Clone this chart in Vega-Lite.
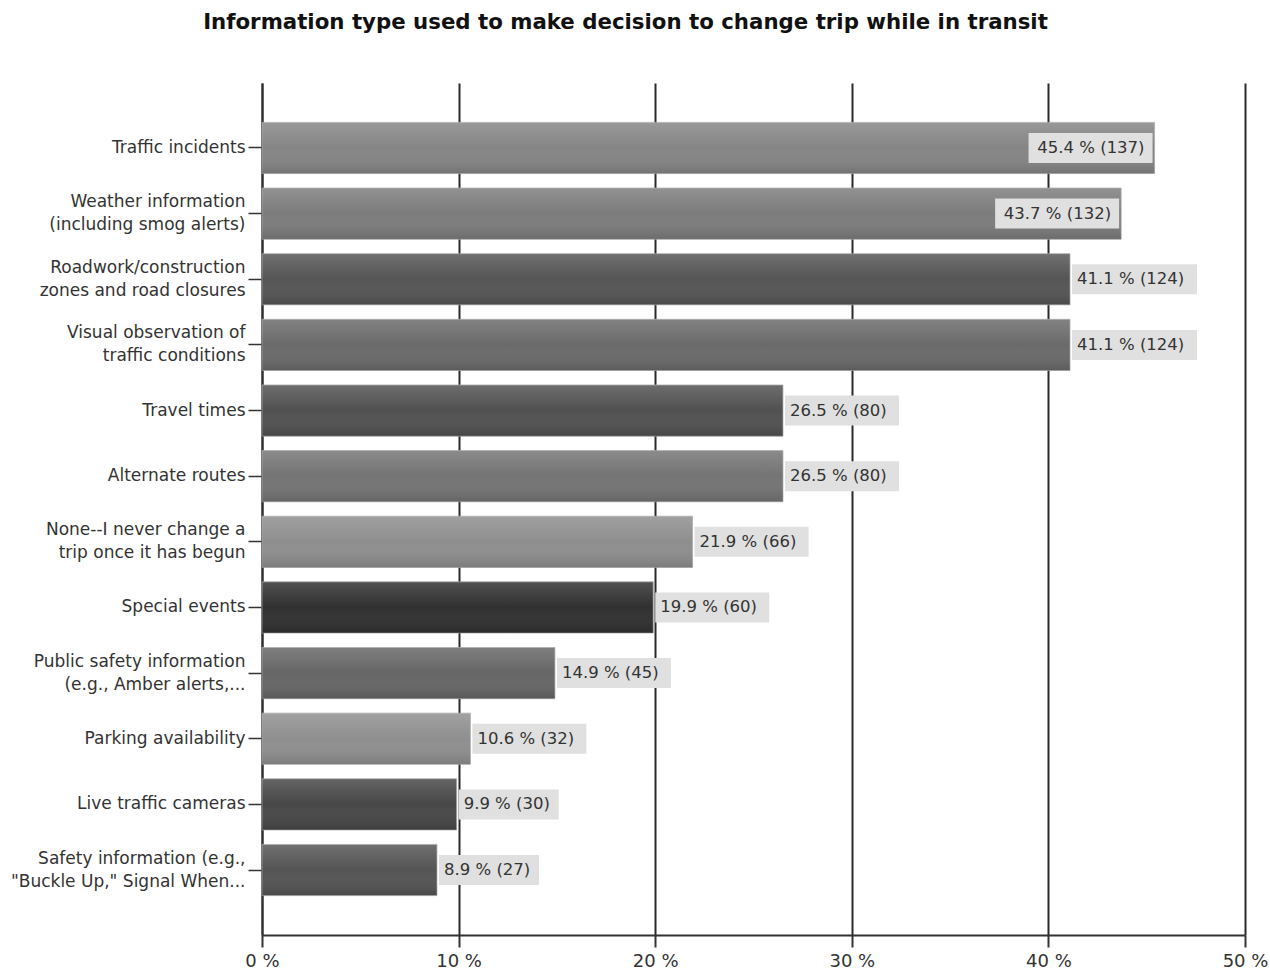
{
  "$schema": "https://vega.github.io/schema/vega-lite/v6.json",
  "width": 983,
  "height": 852,
  "autosize": {"type": "none"},
  "padding": {"left": 262, "top": 83, "right": 25, "bottom": 38},
  "background": "white",
  "title": {
    "text": "Information type used to make decision to change trip while in transit",
    "font": "DejaVu Sans",
    "fontSize": 21.3,
    "fontWeight": "bold",
    "color": "#111111",
    "anchor": "middle",
    "frame": "group",
    "dx": -128,
    "offset": 50
  },
  "config": {
    "view": {"stroke": null},
    "axis": {"labelFont": "DejaVu Sans", "labelFontSize": 17, "labelColor": "#333333"}
  },
  "data": {
    "values": [
      {"cat": "Traffic incidents", "pct": 45.4, "label": "45.4 % (137)"},
      {"cat": "Weather information|(including smog alerts)", "pct": 43.7, "label": "43.7 % (132)"},
      {"cat": "Roadwork/construction|zones and road closures", "pct": 41.1, "label": "41.1 % (124)"},
      {"cat": "Visual observation of|traffic conditions", "pct": 41.1, "label": "41.1 % (124)"},
      {"cat": "Travel times", "pct": 26.5, "label": "26.5 % (80)"},
      {"cat": "Alternate routes", "pct": 26.5, "label": "26.5 % (80)"},
      {"cat": "None--I never change a|trip once it has begun", "pct": 21.9, "label": "21.9 % (66)"},
      {"cat": "Special events", "pct": 19.9, "label": "19.9 % (60)"},
      {"cat": "Public safety information|(e.g., Amber alerts,...", "pct": 14.9, "label": "14.9 % (45)"},
      {"cat": "Parking availability", "pct": 10.6, "label": "10.6 % (32)"},
      {"cat": "Live traffic cameras", "pct": 9.9, "label": "9.9 % (30)"},
      {"cat": "Safety information (e.g.,|\"Buckle Up,\" Signal When...", "pct": 8.9, "label": "8.9 % (27)"}
    ]
  },
  "encoding": {
    "y": {
      "field": "cat",
      "type": "nominal",
      "sort": null,
      "scale": {"paddingInner": 0.22, "paddingOuter": 0.6},
      "axis": {
        "title": null,
        "labelExpr": "split(datum.value, '|')",
        "labelLineHeight": 23,
        "labelLimit": 400,
        "labelOffset": {"condition": {"test": "indexof(datum.value, '|') >= 0", "value": -11.5}, "value": 0},
        "labelPadding": 3,
        "tickSize": 14,
        "tickColor": "#333333",
        "tickWidth": 1.5,
        "domainColor": "#333333",
        "domainWidth": 2,
        "grid": false
      }
    },
    "x": {
      "field": "pct",
      "type": "quantitative",
      "scale": {"domain": [0, 50], "nice": false},
      "axis": {
        "title": null,
        "values": [0, 10, 20, 30, 40, 50],
        "labelExpr": "datum.value + ' %'",
        "labelFlush": false,
        "labelPadding": 5,
        "labelFontSize": 18,
        "tickSize": 12,
        "tickColor": "#333333",
        "tickWidth": 2,
        "domainColor": "#333333",
        "domainWidth": 2,
        "grid": true,
        "gridColor": "#2a2a2a",
        "gridWidth": 2,
        "gridOpacity": 1
      }
    }
  },
  "layer": [
    {
      "mark": {"type": "bar", "opacity": 1, "stroke": "#a8a8a8", "strokeWidth": 1, "strokeOpacity": 0.7},
      "encoding": {
        "color": {
          "field": "cat",
          "type": "nominal",
          "sort": null,
          "legend": null,
          "scale": {
            "domain": [
              "Traffic incidents",
              "Weather information|(including smog alerts)",
              "Roadwork/construction|zones and road closures",
              "Visual observation of|traffic conditions",
              "Travel times",
              "Alternate routes",
              "None--I never change a|trip once it has begun",
              "Special events",
              "Public safety information|(e.g., Amber alerts,...",
              "Parking availability",
              "Live traffic cameras",
              "Safety information (e.g.,|\"Buckle Up,\" Signal When..."
            ],
            "range": ["#858585", "#7c7c7c", "#555555", "#6a6a6a", "#515151", "#747474", "#8e8e8e", "#303030", "#666666", "#8f8f8f", "#474747", "#545454"]
          }
        }
      }
    },
    {
      "mark": {
        "type": "bar",
        "opacity": 1,
        "color": {
          "gradient": "linear",
          "x1": 0, "y1": 0, "x2": 0, "y2": 1,
          "stops": [
            {"offset": 0, "color": "rgba(255,255,255,0.16)"},
            {"offset": 0.5, "color": "rgba(255,255,255,0)"},
            {"offset": 1, "color": "rgba(0,0,0,0.14)"}
          ]
        }
      }
    },
    {
      "transform": [{"filter": "datum.pct > 43"}],
      "mark": {"type": "tick", "opacity": 1, "color": "#e0e0e0", "thickness": 124, "size": 30, "xOffset": -64}
    },
    {
      "transform": [{"filter": "datum.pct <= 43 && length(datum.label) == 12"}],
      "mark": {"type": "tick", "opacity": 1, "color": "#e0e0e0", "thickness": 125, "size": 30, "xOffset": 64.5}
    },
    {
      "transform": [{"filter": "datum.pct <= 43 && length(datum.label) == 11"}],
      "mark": {"type": "tick", "opacity": 1, "color": "#e0e0e0", "thickness": 114, "size": 30, "xOffset": 59}
    },
    {
      "transform": [{"filter": "datum.pct <= 43 && length(datum.label) == 10"}],
      "mark": {"type": "tick", "opacity": 1, "color": "#e0e0e0", "thickness": 100, "size": 30, "xOffset": 52}
    },
    {
      "transform": [{"filter": "datum.pct > 43"}],
      "mark": {"type": "text", "align": "right", "dx": -10, "font": "DejaVu Sans", "fontSize": 16.5, "color": "#333333"},
      "encoding": {"text": {"field": "label"}}
    },
    {
      "transform": [{"filter": "datum.pct <= 43"}],
      "mark": {"type": "text", "align": "left", "dx": 7, "font": "DejaVu Sans", "fontSize": 16.5, "color": "#333333"},
      "encoding": {"text": {"field": "label"}}
    }
  ]
}
